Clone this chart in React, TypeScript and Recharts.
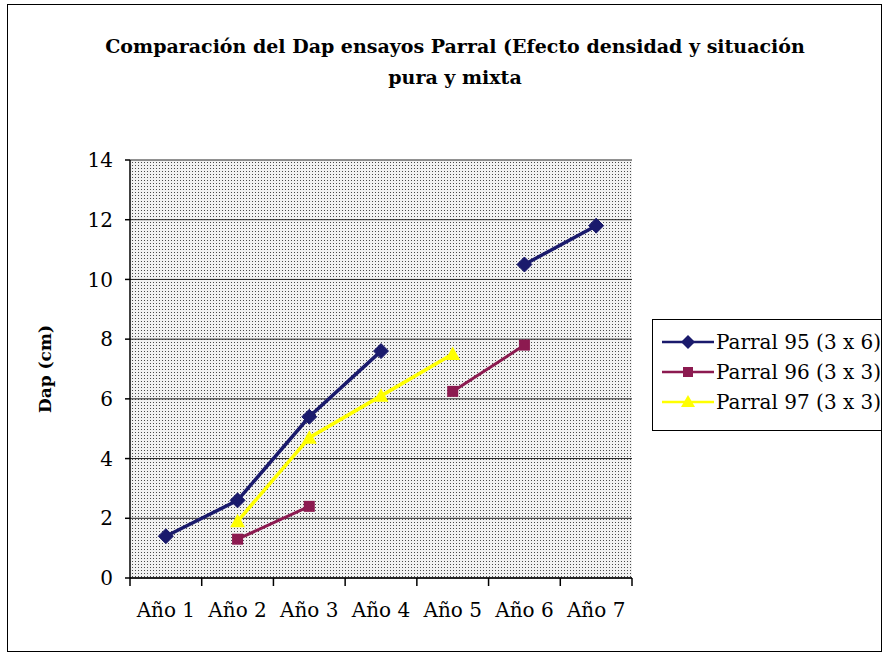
import React from 'react';
import { LineChart, Line, XAxis, YAxis, CartesianGrid } from 'recharts';

const categories = ['Año 1', 'Año 2', 'Año 3', 'Año 4', 'Año 5', 'Año 6', 'Año 7'];
const parral95 = [1.4, 2.6, 5.4, 7.6, null, 10.5, 11.8];
const parral96 = [null, 1.3, 2.4, null, 6.25, 7.8, null];
const parral97 = [null, 1.9, 4.7, 6.1, 7.5, null, null];
const yTicks = [0, 2, 4, 6, 8, 10, 12, 14];
const seriesNames = ['Parral 95 (3 x 6)', 'Parral 96 (3 x 3)', 'Parral 97 (3 x 3)'];
const titleLines = ['Comparación del Dap ensayos Parral (Efecto densidad y situación', 'pura y mixta'];
const yLabel = 'Dap (cm)';

const data = categories.map((c, i) => ({
  cat: c,
  p95: parral95[i],
  p96: parral96[i],
  p97: parral97[i],
}));

const FONT = '"DejaVu Serif", serif';
const C95 = '#1a1a6c';
const C96 = '#8c1a50';
const C97 = '#ffff00';

const Diamond = (props: any) => {
  const { cx, cy, fill } = props;
  if (cx == null || cy == null || props.value == null) return null;
  const r = 7.5;
  return <path d={`M${cx},${cy - r}L${cx + r},${cy}L${cx},${cy + r}L${cx - r},${cy}Z`} fill={fill} stroke={fill} />;
};
const Square = (props: any) => {
  const { cx, cy, fill } = props;
  if (cx == null || cy == null || props.value == null) return null;
  const r = 5.5;
  return <rect x={cx - r} y={cy - r} width={2 * r} height={2 * r} fill={fill} />;
};
const Triangle = (props: any) => {
  const { cx, cy, fill } = props;
  if (cx == null || cy == null || props.value == null) return null;
  const r = 7.5;
  return <path d={`M${cx},${cy - r}L${cx + r},${cy + r * 0.8}L${cx - r},${cy + r * 0.8}Z`} fill={fill} />;
};

const XTick = (props: any) => {
  const { x, y, payload, index, visibleTicksCount } = props;
  const off = payload && payload.offset ? payload.offset : 0;
  const last = index === visibleTicksCount - 1;
  return (
    <g>
      <line x1={x - off} x2={x - off} y1={y} y2={y + 8} stroke="#000" strokeWidth={1.5} />
      {last && <line x1={x + off} x2={x + off} y1={y} y2={y + 8} stroke="#000" strokeWidth={1.5} />}
      <text x={x} y={y + 39} textAnchor="middle" fontFamily={FONT} fontSize={20} fill="#000">
        {payload.value}
      </text>
    </g>
  );
};

const LegendBox = () => {
  const items = [
    { name: seriesNames[0], color: C95, shape: 'diamond' },
    { name: seriesNames[1], color: C96, shape: 'square' },
    { name: seriesNames[2], color: C97, shape: 'triangle' },
  ];
  return (
    <div style={{ position: 'absolute', left: 652, top: 319, width: 230, height: 112, border: '1.5px solid #000', background: '#fff', padding: '7px 0 0 8px', boxSizing: 'border-box', overflow: 'hidden' }}>
      {items.map((it) => (
        <div key={it.name} style={{ display: 'flex', alignItems: 'center', height: 30 }}>
          <svg width={54} height={20} style={{ flex: 'none' }}>
            <line x1={1} x2={53} y1={10} y2={10} stroke={it.color} strokeWidth={2.5} />
            {it.shape === 'diamond' && <path d="M27,3L34,10L27,17L20,10Z" fill={it.color} />}
            {it.shape === 'square' && <rect x={22} y={5} width={10} height={10} fill={it.color} />}
            {it.shape === 'triangle' && <path d="M27,3L34,15L20,15Z" fill={it.color} />}
          </svg>
          <span style={{ fontFamily: FONT, fontSize: 20, color: '#000', whiteSpace: 'nowrap', marginLeft: 1 }}>{it.name}</span>
        </div>
      ))}
    </div>
  );
};

export default function App() {
  return (
    <div style={{ position: 'absolute', left: 0, top: 0, width: 888, height: 657, background: '#fff', overflow: 'hidden' }}>
      <div style={{ position: 'absolute', left: 7, top: 4, width: 873, height: 646, border: '1.5px solid #000' }} />
      <div style={{ position: 'absolute', left: 0, top: 31, width: 910, textAlign: 'center', fontFamily: FONT, fontWeight: 'bold', fontSize: 19, lineHeight: '31px', color: '#000' }}>
        {titleLines.map((t) => (
          <div key={t}>{t}</div>
        ))}
      </div>
      <LineChart
        width={888}
        height={657}
        data={data}
        margin={{ top: 160, right: 256, left: 70, bottom: 39 }}
        style={{ position: 'absolute', left: 0, top: 0 }}
      >
        <defs>
          <pattern id="dots" width={3} height={3} patternUnits="userSpaceOnUse">
            <rect width={3} height={3} fill="#f2f2f2" />
            <rect width={1} height={1} fill="#4a4a4a" />
          </pattern>
        </defs>
        <CartesianGrid vertical={false} horizontal={true} stroke="#222" strokeWidth={1} fill="url(#dots)" fillOpacity={1} />
        <XAxis
          dataKey="cat"
          scale="band"
          height={40}
          tickSize={0}
          tickMargin={0}
          tickLine={false}
          axisLine={{ stroke: '#000', strokeWidth: 1.5 }}
          tick={(p: any) => <XTick {...p} />}
          interval={0}
        />
        <YAxis
          width={60}
          domain={[0, 14]}
          ticks={yTicks}
          tickSize={5}
          tickMargin={12}
          axisLine={{ stroke: '#000', strokeWidth: 1.5 }}
          tickLine={{ stroke: '#000', strokeWidth: 1.5 }}
          tick={{ fontFamily: FONT, fontSize: 20, fill: '#000' }}
          label={{ value: yLabel, angle: -90, position: 'insideLeft', offset: -25, style: { fontFamily: FONT, fontWeight: 'bold', fontSize: 17, fill: '#000', textAnchor: 'middle' } }}
        />
        <Line type="linear" dataKey="p95" name={seriesNames[0]} stroke={C95} strokeWidth={3.5} fill={C95} dot={<Diamond />} activeDot={false} connectNulls={false} isAnimationActive={false} />
        <Line type="linear" dataKey="p96" name={seriesNames[1]} stroke={C96} strokeWidth={3} fill={C96} dot={<Square />} activeDot={false} connectNulls={false} isAnimationActive={false} />
        <Line type="linear" dataKey="p97" name={seriesNames[2]} stroke={C97} strokeWidth={3.5} fill={C97} dot={<Triangle />} activeDot={false} connectNulls={false} isAnimationActive={false} />
      </LineChart>
      <LegendBox />
    </div>
  );
}
